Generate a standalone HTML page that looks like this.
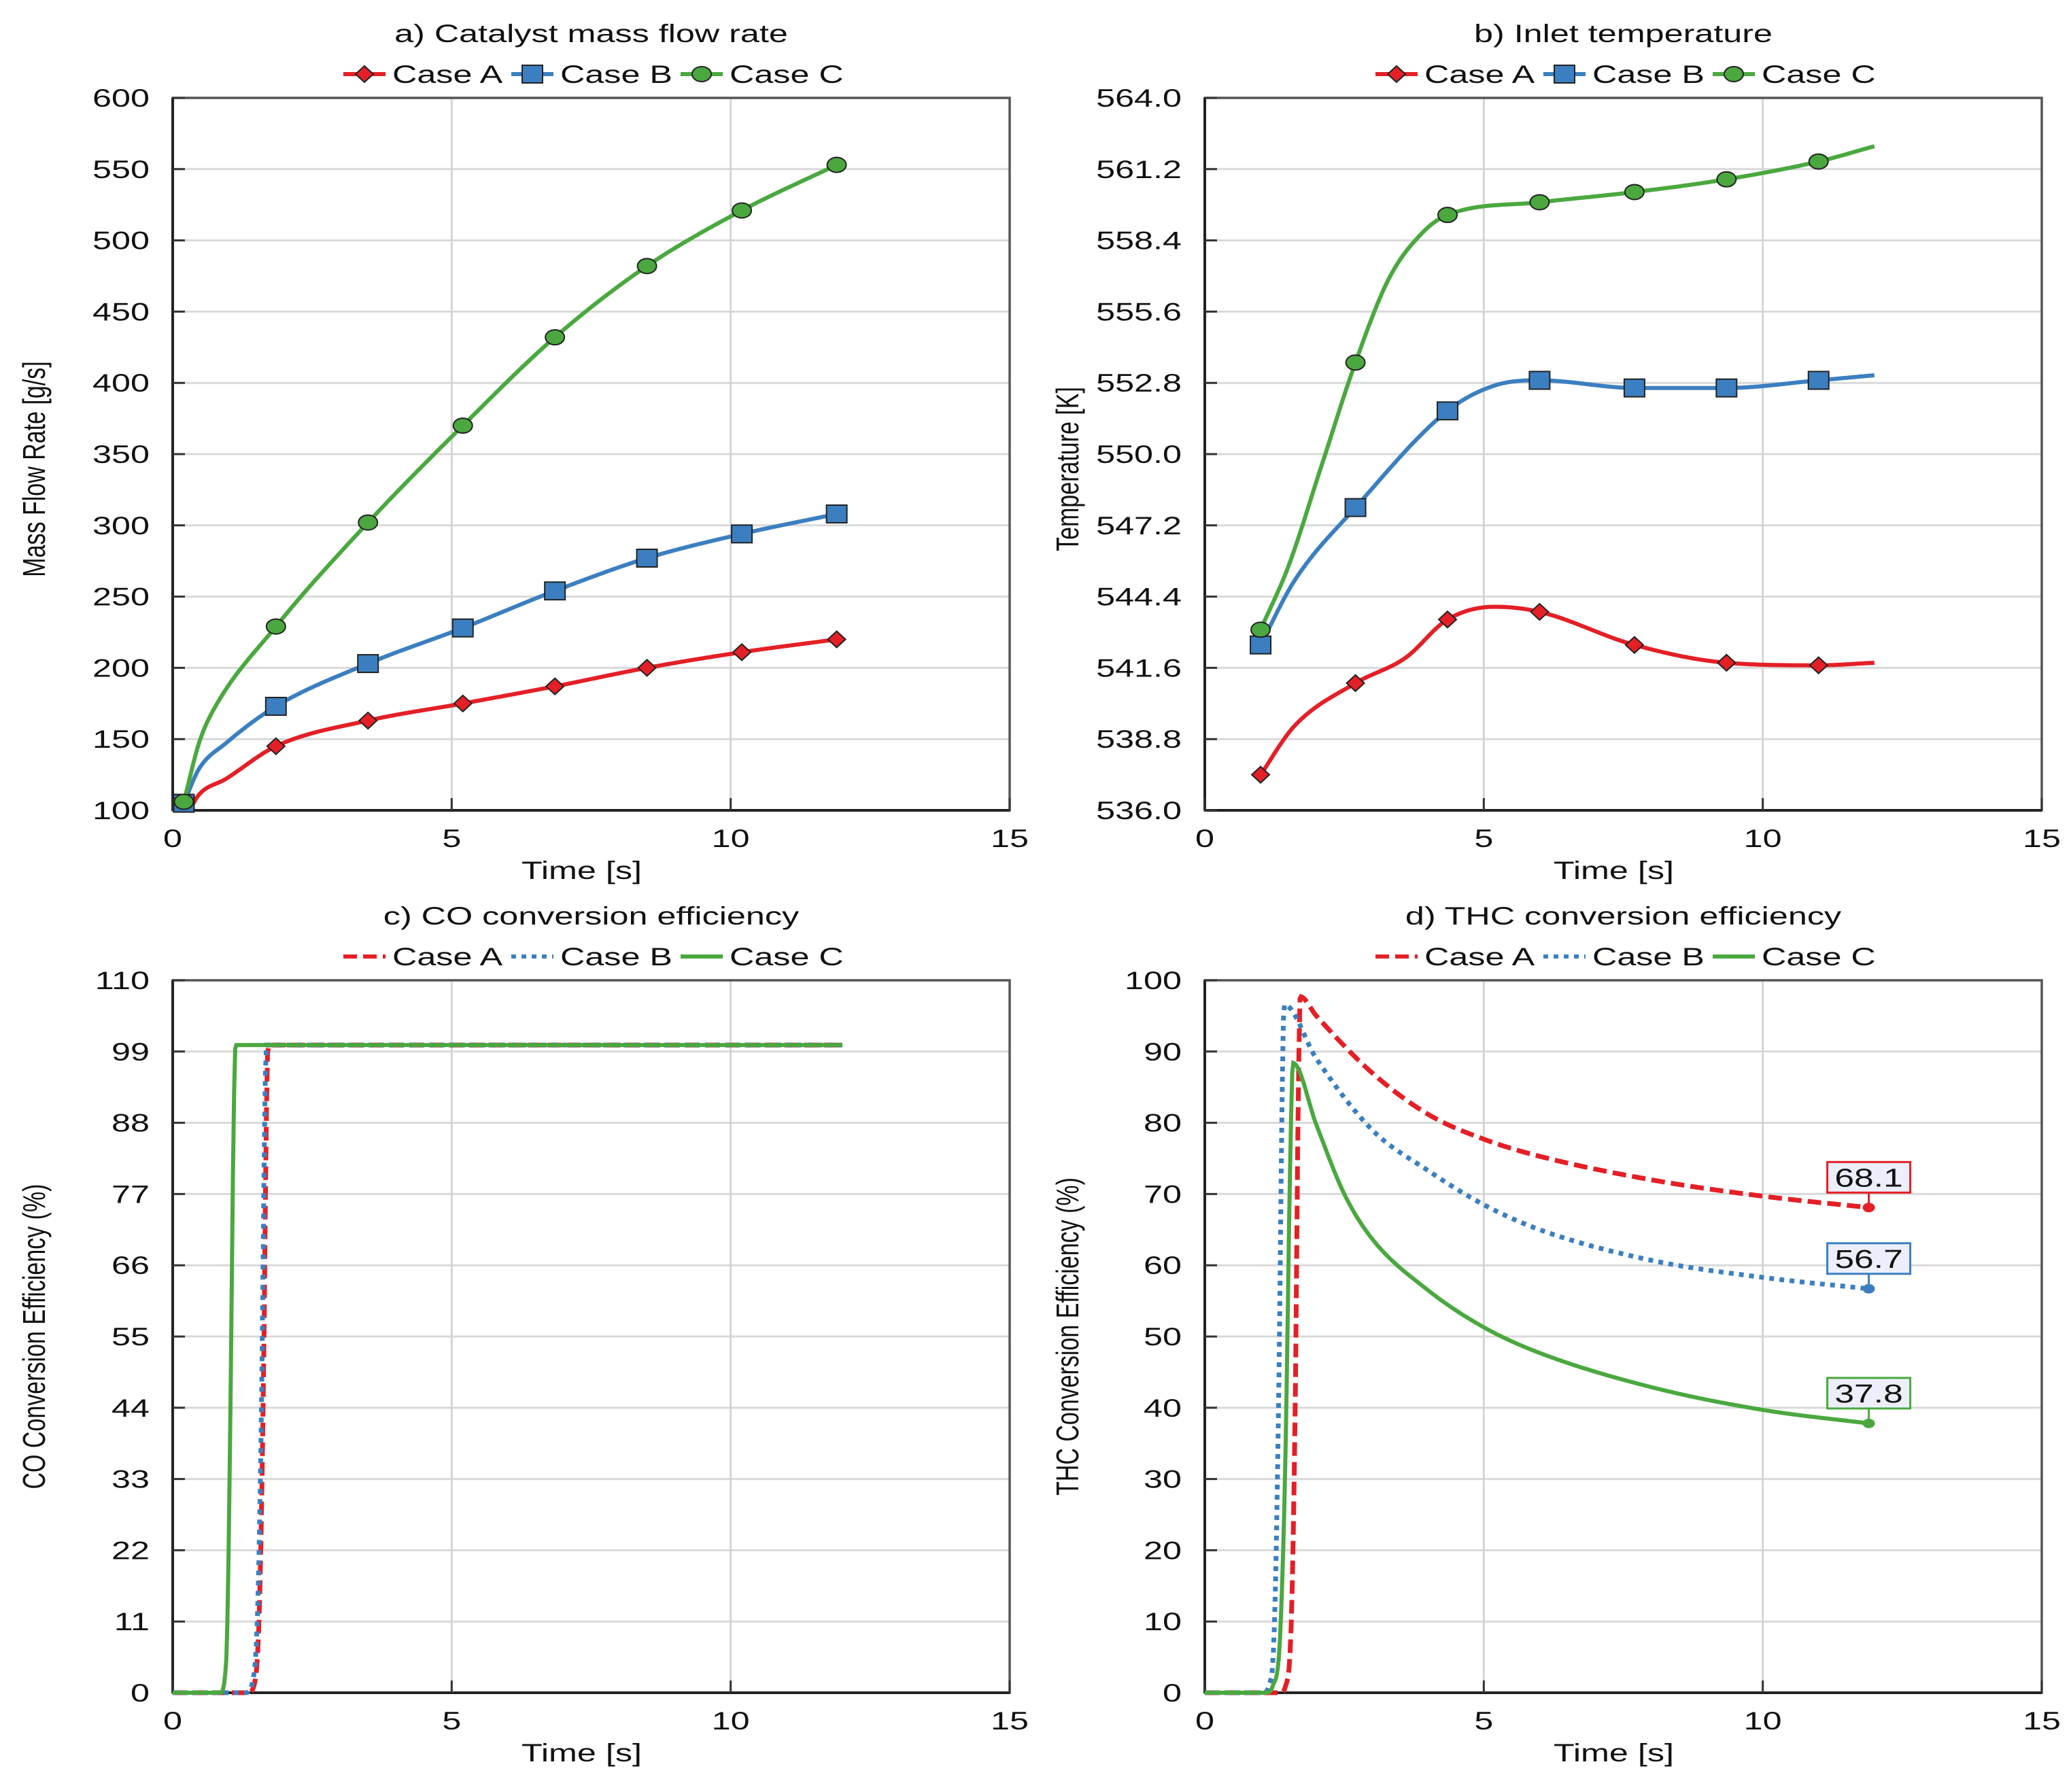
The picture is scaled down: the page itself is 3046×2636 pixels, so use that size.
<!DOCTYPE html>
<html><head><meta charset="utf-8"><style>
html,body{margin:0;padding:0;background:#fff;}
svg{display:block;}
text{font-family:"Liberation Sans",Arial,sans-serif;fill:#111;}
</style></head><body>
<svg id="fig" width="3046" height="2636" viewBox="0 0 3046 2636" xmlns="http://www.w3.org/2000/svg"></svg>
<script>
// ---------- Data ----------
// Panel a: catalyst mass flow rate
const aTimesA = [0.3, 0.47, 0.95, 1.85, 3.5, 5.2, 6.85, 8.5, 10.2, 11.9];
const aValsA  = [100, 111, 122, 145, 163, 175, 187, 200, 211, 220];
const aTimesB = [0.2, 0.47, 0.95, 1.85, 3.5, 5.2, 6.85, 8.5, 10.2, 11.9];
const aValsB  = [105, 129, 147, 173, 203, 228, 254, 277, 294, 308];
const aTimesC = [0.2, 0.47, 0.71, 1.85, 3.5, 5.2, 6.85, 8.5, 10.2, 11.9];
const aValsC  = [106, 147, 169, 229, 302, 370, 432, 482, 521, 553];
const aMarkerTimesA = [1.85, 3.5, 5.2, 6.85, 8.5, 10.2, 11.9];
const aMarkerTimesBC = [0.2, 1.85, 3.5, 5.2, 6.85, 8.5, 10.2, 11.9];
const aYTicks = [100, 150, 200, 250, 300, 350, 400, 450, 500, 550, 600];

// Panel b: inlet temperature
const bTimesA = [1.0, 1.6, 2.7, 3.6, 4.35, 5.2, 6.0, 7.7, 9.35, 11.0, 12.0];
const bValsA  = [537.4, 539.3, 541.0, 542.0, 543.5, 544.0, 543.8, 542.5, 541.8, 541.7, 541.8];
const bTimesB = [1.0, 1.6, 2.7, 4.35, 5.2, 6.0, 7.7, 9.35, 11.0, 12.0];
const bValsB  = [542.5, 545.0, 547.9, 551.7, 552.7, 552.9, 552.6, 552.6, 552.9, 553.1];
const bTimesC = [1.0, 1.5, 2.1, 2.7, 3.3, 3.9, 4.35, 6.0, 7.7, 9.35, 11.0, 12.0];
const bValsC  = [543.1, 545.6, 549.6, 553.6, 556.9, 558.7, 559.4, 559.9, 560.3, 560.8, 561.5, 562.1];
const bMarkerTimes = [1.0, 2.7, 4.35, 6.0, 7.7, 9.35, 11.0];
const bYTicks = [536.0, 538.8, 541.6, 544.4, 547.2, 550.0, 552.8, 555.6, 558.4, 561.2, 564.0];

// Panel c: CO conversion efficiency
const cTimesA = [0, 1.35, 1.48, 1.56, 1.63, 1.68, 1.71, 12];
const cValsA  = [0, 0, 2, 15, 50, 90, 100, 100];
const cTimesB = [0, 1.3, 1.44, 1.53, 1.6, 1.65, 1.68, 12];
const cValsB  = [0, 0, 2, 15, 50, 90, 100, 100];
const cTimesC = [0, 0.85, 0.96, 1.03, 1.08, 1.11, 1.13, 12];
const cValsC  = [0, 0, 5, 40, 80, 97, 100, 100];
const cYTicks = [0, 11, 22, 33, 44, 55, 66, 77, 88, 99, 110];

// Panel d: THC conversion efficiency
const dTimesA = [0, 1.35, 1.45, 1.55, 1.62, 1.67, 1.71, 2.0, 3.0, 4.0, 5.0, 6.0, 8.0, 10.0, 11.9];
const dValsA  = [0, 0, 1, 10, 40, 80, 97.7, 95, 87, 81.2, 77.7, 75.3, 72, 69.7, 68.1];
const dTimesB = [0, 1.05, 1.15, 1.25, 1.33, 1.38, 1.42, 2.0, 3.0, 4.0, 5.0, 6.0, 8.0, 10.0, 11.9];
const dValsB  = [0, 0, 1, 10, 45, 80, 96.6, 89, 79, 73.3, 68.5, 65, 60.7, 58.3, 56.7];
const dTimesC = [0, 1.1, 1.22, 1.35, 1.45, 1.52, 1.58, 2.0, 2.5, 3.0, 4.0, 5.0, 6.0, 8.0, 10.0, 11.9];
const dValsC  = [0, 0, 1, 8, 35, 70, 88.4, 79.7, 70, 63.7, 56.5, 51.3, 47.7, 42.9, 39.7, 37.8];
const dEndLabels = ["68.1", "56.7", "37.8"];
const dYTicks = [0, 10, 20, 30, 40, 50, 60, 70, 80, 90, 100];

const xTicks = [0, 5, 10, 15];

// ---------- Drawing ----------
const NS = "http://www.w3.org/2000/svg";
const svg = document.getElementById("fig");
const RED = "#e41f26", BLUE = "#3b7fc0", GREEN = "#4aa83f";
const SX = 1.36;

function mk(tag, attrs, parent) {
  const e = document.createElementNS(NS, tag);
  for (const k in attrs) e.setAttribute(k, attrs[k]);
  (parent || svg).appendChild(e);
  return e;
}
function txt(parent, x, y, s, size, anchor, rot) {
  const g = mk("g", {transform: rot ? `translate(${x},${y}) rotate(-90) scale(1,${SX})` : `translate(${x},${y}) scale(${SX},1)`}, parent);
  const t = mk("text", {x: 0, y: 0, "font-size": size, "text-anchor": anchor || "middle"}, g);
  t.textContent = s;
  return g;
}
function monotone(xs, ys) {
  const n = xs.length, d = [], m = [];
  for (let i = 0; i < n - 1; i++) d.push((ys[i+1]-ys[i])/(xs[i+1]-xs[i]));
  m[0] = d[0]; m[n-1] = d[n-2];
  for (let i = 1; i < n - 1; i++) m[i] = (d[i-1]*d[i] <= 0) ? 0 : (d[i-1]+d[i])/2;
  for (let i = 0; i < n - 1; i++) {
    if (d[i] === 0) { m[i] = 0; m[i+1] = 0; continue; }
    const a = m[i]/d[i], b = m[i+1]/d[i], h = a*a+b*b;
    if (h > 9) { const t = 3/Math.sqrt(h); m[i] = t*a*d[i]; m[i+1] = t*b*d[i]; }
  }
  return function(x) {
    let i = 0; while (i < n - 2 && x > xs[i+1]) i++;
    const hh = xs[i+1]-xs[i], t = (x-xs[i])/hh;
    const t2 = t*t, t3 = t2*t;
    return (2*t3-3*t2+1)*ys[i] + (t3-2*t2+t)*hh*m[i] + (-2*t3+3*t2)*ys[i+1] + (t3-t2)*hh*m[i+1];
  };
}
function curvePath(xs, ys, X, Y) {
  const f = monotone(xs, ys);
  let p = "", x0 = xs[0], x1 = xs[xs.length-1];
  const N = 600;
  for (let k = 0; k <= N; k++) {
    const x = x0 + (x1-x0)*k/N;
    p += (k ? "L" : "M") + X(x).toFixed(1) + "," + Y(f(x)).toFixed(1);
  }
  return p;
}

function panel(opt) {
  const g = mk("g", {});
  
  
  const L = opt.l, R = opt.l + 1231, T = opt.t, B = opt.t + 1048;
  const X = v => L + (v - 0) / 15 * (R - L);
  const y0 = opt.yTicks[0], y1 = opt.yTicks[opt.yTicks.length-1];
  const Y = v => B - (v - y0) / (y1 - y0) * (B - T);
  const grid = mk("g", {}, g);
  
  
  opt.yTicks.forEach(v => mk("line", {x1: L, x2: R, y1: Y(v), y2: Y(v), stroke: "#d9d9d9", "stroke-width": 3}, grid));
  xTicks.forEach(v => mk("line", {x1: X(v), x2: X(v), y1: T, y2: B, stroke: "#d4d4d4", "stroke-width": 3}, grid));
  const frame = mk("rect", {x: L, y: T, width: R-L, height: B-T, fill: "none", stroke: "#555", "stroke-width": 3.5}, g);
  
  
  mk("line", {x1: L, x2: L, y1: T, y2: B, stroke: "#222", "stroke-width": 4}, g);
  mk("line", {x1: L, x2: R, y1: B, y2: B, stroke: "#222", "stroke-width": 4}, g);
  opt.yTicks.forEach(v => {
    mk("line", {x1: L, x2: L+18, y1: Y(v), y2: Y(v), stroke: "#333", "stroke-width": 3}, g);
    const t = txt(g, L-34, Y(v)+13, opt.fmt ? opt.fmt(v) : String(v), 37, "end");
    
    
  });
  xTicks.forEach(v => {
    mk("line", {x1: X(v), x2: X(v), y1: B, y2: B-18, stroke: "#333", "stroke-width": 3}, g);
    const t = txt(g, X(v), B+54, String(v), 37, "middle");
    
    
  });
  const xt = txt(g, (L+R)/2 - 14, B+101, "Time [s]", 37, "middle");
  
  
  const yt = txt(g, opt.yTitleX, (T+B)/2 + (opt.yTitleDy || 0), opt.yTitle, 34, "middle", true);
  
  
  const tt = txt(g, (L+R)/2, T - 82, opt.title, 37, "middle");
  
  
  return {g, X, Y, L, R, T, B};
}

function marker(parent, type, x, y, color) {
  let e;
  if (type === "diamond") e = mk("path", {d: `M${x-13},${y} L${x},${y-12} L${x+13},${y} L${x},${y+12}Z`, fill: color, stroke: "#222", "stroke-width": 2}, parent);
  else if (type === "square") e = mk("rect", {x: x-15, y: y-13, width: 30, height: 26, fill: color, stroke: "#222", "stroke-width": 2}, parent);
  else e = mk("ellipse", {cx: x, cy: y, rx: 14, ry: 11, fill: color, stroke: "#222", "stroke-width": 2}, parent);
  return e;
}

function legend(parent, x0, y, styles) {
  const lg = mk("g", {}, parent);
  
  
  const offs = [0, 247, 496];
  const names = ["Case A", "Case B", "Case C"];
  const cols = [RED, BLUE, GREEN];
  for (let i = 0; i < 3; i++) {
    const e = mk("g", {}, lg);
    
    
    const lx = x0 + offs[i];
    mk("line", {x1: lx, x2: lx+62, y1: y, y2: y, stroke: cols[i], "stroke-width": 6, "stroke-dasharray": styles[i].dash || "none"}, e);
    if (styles[i].marker) marker(e, styles[i].marker, lx+31, y, cols[i]);
    txt(e, lx+72, y+13, names[i], 37, "start");
  }
}

// ---- Panel a ----
(function(){
  const p = panel({name: "panel-a-mass-flow", l: 254, t: 144, yTicks: aYTicks, yTitle: "Mass Flow Rate [g/s]", yTitleX: 66, yTitleDy: 22, title: "a) Catalyst mass flow rate"});
  const sets = [[aTimesA, aValsA, RED, "diamond", aMarkerTimesA], [aTimesB, aValsB, BLUE, "square", aMarkerTimesBC], [aTimesC, aValsC, GREEN, "circle", aMarkerTimesBC]];
  const ids = ["a", "b", "c"];
  sets.forEach((s, i) => {
    const path = mk("path", {d: curvePath(s[0], s[1], p.X, p.Y), fill: "none", stroke: s[2], "stroke-width": 6, "stroke-linejoin": "round"}, p.g);
    
    
    const f = monotone(s[0], s[1]);
    s[4].forEach(t => {
      const m = marker(p.g, s[3], p.X(t), p.Y(f(Math.max(t, s[0][0]))), s[2]);
      
      
    });
  });
  legend(p.g, 505, 109, [{marker: "diamond"}, {marker: "square"}, {marker: "circle"}]);
})();

// ---- Panel b ----
(function(){
  const p = panel({name: "panel-b-inlet-temperature", l: 1772, t: 144, yTicks: bYTicks, fmt: v => v.toFixed(1), yTitle: "Temperature [K]", yTitleX: 1586, yTitleDy: 22, title: "b) Inlet temperature"});
  const sets = [[bTimesA, bValsA, RED, "diamond"], [bTimesB, bValsB, BLUE, "square"], [bTimesC, bValsC, GREEN, "circle"]];
  const ids = ["a", "b", "c"];
  sets.forEach((s, i) => {
    const path = mk("path", {d: curvePath(s[0], s[1], p.X, p.Y), fill: "none", stroke: s[2], "stroke-width": 6, "stroke-linejoin": "round"}, p.g);
    
    
    const f = monotone(s[0], s[1]);
    bMarkerTimes.forEach(t => {
      const m = marker(p.g, s[3], p.X(t), p.Y(f(t)), s[2]);
      
      
    });
  });
  legend(p.g, 2023, 109, [{marker: "diamond"}, {marker: "square"}, {marker: "circle"}]);
})();

const lineStyles = [{dash: "20,9", w: 7}, {dash: "7,8", w: 7}, {dash: null, w: 6}];

// ---- Panel c ----
(function(){
  const p = panel({name: "panel-c-co-conversion", l: 254, t: 1442, yTicks: cYTicks, yTitle: "CO Conversion Efficiency (%)", yTitleX: 66, title: "c) CO conversion efficiency"});
  const sets = [[cTimesA, cValsA, RED], [cTimesB, cValsB, BLUE], [cTimesC, cValsC, GREEN]];
  const ids = ["a", "b", "c"];
  sets.forEach((s, i) => {
    const path = mk("path", {d: curvePath(s[0], s[1], p.X, p.Y), fill: "none", stroke: s[2], "stroke-width": lineStyles[i].w, "stroke-dasharray": lineStyles[i].dash || "none"}, p.g);
    
    
  });
  legend(p.g, 505, 1407, [{dash: "20,9"}, {dash: "7,8"}, {dash: null}]);
})();

// ---- Panel d ----
(function(){
  const p = panel({name: "panel-d-thc-conversion", l: 1772, t: 1442, yTicks: dYTicks, yTitle: "THC Conversion Efficiency (%)", yTitleX: 1586, title: "d) THC conversion efficiency"});
  const sets = [[dTimesA, dValsA, RED], [dTimesB, dValsB, BLUE], [dTimesC, dValsC, GREEN]];
  const ids = ["a", "b", "c"];
  sets.forEach((s, i) => {
    const path = mk("path", {d: curvePath(s[0], s[1], p.X, p.Y), fill: "none", stroke: s[2], "stroke-width": lineStyles[i].w, "stroke-dasharray": lineStyles[i].dash || "none"}, p.g);
    
    
    const ex = p.X(s[0][s[0].length-1]), ey = p.Y(s[1][s[1].length-1]);
    const lab = mk("g", {}, p.g);
    
    
    const by = ey - 22;
    mk("line", {x1: ex, x2: ex, y1: by, y2: ey, stroke: s[2], "stroke-width": 3}, lab);
    mk("ellipse", {cx: ex, cy: ey, rx: 9, ry: 7, fill: s[2]}, lab);
    mk("rect", {x: ex-61, y: by-45, width: 122, height: 45, fill: "#eceefb", stroke: s[2], "stroke-width": 3}, lab);
    txt(lab, ex, by-9, dEndLabels[i], 38, "middle");
  });
  legend(p.g, 2023, 1407, [{dash: "20,9"}, {dash: "7,8"}, {dash: null}]);
})();
</script>
</body></html>
